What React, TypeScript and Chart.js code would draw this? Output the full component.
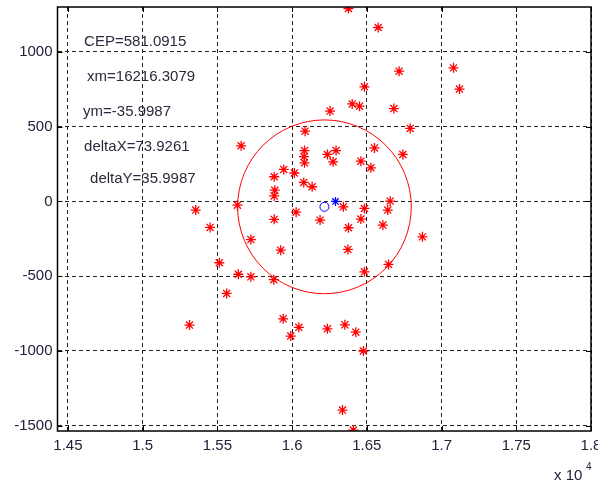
import React, { useEffect, useRef } from 'react';
import { Chart, registerables } from 'chart.js';

Chart.register(...registerables);

// ---- data ----
const shotX = [
  16377, 16576, 16716, 17080, 17120, 16484, 16402, 16451, 16254, 16681,
  16790, 16087, 15659, 16083, 16080, 16083, 16236, 16294, 16274, 16460,
  16551, 16741, 16527, 15944, 16015, 15880, 16078, 16134, 15884, 15880,
  15355, 15634, 16027, 15880, 15451, 15724, 15924, 15513, 15640, 15724,
  15877, 15562, 15313, 15940, 15991, 16045, 16236, 16353, 16426, 16477,
  16337, 16410, 16343, 16484, 16656, 16640, 16460, 16187, 16377, 16607,
  16872, 16373, 16645, 16484,
];
const shotY = [
  1290, 1163, 871, 893, 751, 766, 652, 637, 604, 621,
  488, 470, 372, 340, 300, 258, 314, 340, 265, 269,
  358, 314, 225, 214, 190, 165, 127, 98, 75, 37,
  -58, -25, -72, -120, -174, -255, -326, -410, -487, -504,
  -523, -615, -827, -785, -900, -842, -852, -825, -874, -1000,
  -1395, -1529, -36, -47, 2, -58, -118, -125, -176, -158,
  -237, -321, -421, -471,
];
const meanX = [16216.3079];
const meanY = [-35.9987];
const targetX = [16290.234];
const targetY = [0];
const CEP = 581.0915;

const xTickValues = [14500, 15000, 15500, 16000, 16500, 17000, 17500, 18000];
const xTickLabels = ['1.45', '1.5', '1.55', '1.6', '1.65', '1.7', '1.75', '1.8'];
const yTickValues = [-1500, -1000, -500, 0, 500, 1000];
const yTickLabels = ['-1500', '-1000', '-500', '0', '500', '1000'];
const statLabels = ['CEP=581.0915', 'xm=16216.3079', 'ym=-35.9987', 'deltaX=73.9261', 'deltaY=35.9987'];

const FONT = '"Liberation Sans", Arial, sans-serif';
const TEXT_COLOR = '#22223a';

function zeroPadding(s: any) {
  s.paddingTop = 0;
  s.paddingBottom = 0;
  s.paddingLeft = 0;
  s.paddingRight = 0;
  if (s._margins) {
    s._margins.top = 0;
    s._margins.bottom = 0;
    s._margins.left = 0;
    s._margins.right = 0;
  }
}

export default function App() {
  const ref = useRef<HTMLCanvasElement | null>(null);

  useEffect(() => {
    if (!ref.current) return;

    const cepPlugin = {
      id: 'cepCircle',
      beforeDatasetsDraw(chart: any) {
        const { ctx, chartArea, scales } = chart;
        const xs = scales.x, ys = scales.y;
        const cx = xs.getPixelForValue(meanX[0]);
        const cy = ys.getPixelForValue(meanY[0]);
        const rx = Math.abs(xs.getPixelForValue(meanX[0] + CEP) - cx);
        const ry = Math.abs(ys.getPixelForValue(meanY[0] + CEP) - cy);
        ctx.save();
        ctx.beginPath();
        ctx.rect(chartArea.left, chartArea.top, chartArea.right - chartArea.left, chartArea.bottom - chartArea.top);
        ctx.clip();
        ctx.beginPath();
        ctx.ellipse(cx, cy, rx, ry, 0, 0, Math.PI * 2);
        ctx.strokeStyle = '#ff0000';
        ctx.lineWidth = 1;
        ctx.stroke();

        // statistics text (anchored in data coordinates)
        const anchors = [
          [14608, 1065],
          [14628, 832],
          [14601, 596],
          [14608, 363],
          [14648, 149],
        ];
        ctx.font = '15px ' + FONT;
        ctx.fillStyle = '#2a2a3c';
        ctx.textAlign = 'left';
        ctx.textBaseline = 'middle';
        statLabels.forEach((t, i) => {
          ctx.fillText(t, xs.getPixelForValue(anchors[i][0]), ys.getPixelForValue(anchors[i][1]));
        });
        ctx.restore();
      },
      afterDraw(chart: any) {
        const { ctx, chartArea, scales } = chart;
        const { left, right, top, bottom } = chartArea;
        ctx.save();
        ctx.strokeStyle = '#000';
        ctx.lineWidth = 1.5;
        ctx.setLineDash([]);
        ctx.strokeRect(left, top, right - left, bottom - top);
        ctx.lineWidth = 1;
        ctx.beginPath();
        xTickValues.forEach((v) => {
          const px = Math.round(scales.x.getPixelForValue(v)) + 0.5;
          ctx.moveTo(px, bottom);
          ctx.lineTo(px, bottom - 5);
          ctx.moveTo(px, top);
          ctx.lineTo(px, top + 5);
        });
        yTickValues.forEach((v) => {
          const py = Math.round(scales.y.getPixelForValue(v)) + 0.5;
          ctx.moveTo(left, py);
          ctx.lineTo(left + 5, py);
          ctx.moveTo(right, py);
          ctx.lineTo(right - 5, py);
        });
        ctx.stroke();

        // exponent label
        ctx.fillStyle = TEXT_COLOR;
        ctx.textAlign = 'left';
        ctx.textBaseline = 'alphabetic';
        ctx.font = '15px ' + FONT;
        ctx.fillText('x 10', 554, 480);
        ctx.font = '10px ' + FONT;
        ctx.fillText('4', 586, 470);
        ctx.restore();
      },
    };

    const chart = new Chart(ref.current, {
      type: 'scatter',
      data: {
        datasets: [
          {
            label: 'shots',
            data: shotX.map((x, i) => ({ x, y: shotY[i] })),
            pointStyle: 'star',
            radius: 5,
            borderColor: '#ff0000',
            backgroundColor: '#ff0000',
            borderWidth: 1.3,
          },
          {
            label: 'mean',
            data: meanX.map((x, i) => ({ x, y: meanY[i] })),
            pointStyle: 'circle',
            radius: 4.5,
            borderColor: '#0000ff',
            backgroundColor: 'rgba(0,0,0,0)',
            borderWidth: 1,
          },
          {
            label: 'target',
            data: targetX.map((x, i) => ({ x, y: targetY[i] })),
            pointStyle: 'star',
            radius: 4.5,
            borderColor: '#0000ff',
            backgroundColor: '#0000ff',
            borderWidth: 1.3,
          },
        ],
      },
      options: {
        responsive: false,
        animation: false,
        events: [],
        layout: { padding: { left: 0, top: 7, right: 7, bottom: 0 }, autoPadding: false },
        plugins: { legend: { display: false }, tooltip: { enabled: false } },
        scales: {
          x: {
            type: 'linear',
            min: 14430,
            max: 18000,
            afterBuildTicks: (s: any) => {
              s.ticks = xTickValues.map((v) => ({ value: v }));
            },
            afterFit: (s: any) => {
              s.height = 53;
              zeroPadding(s);
            },
            ticks: {
              autoSkip: false,
              maxRotation: 0,
              padding: 6,
              color: TEXT_COLOR,
              font: { family: FONT, size: 15 },
              callback: (_v: any, i: number) => xTickLabels[i],
            },
            grid: { color: '#222', lineWidth: 1, drawTicks: false },
            border: { display: false, dash: [4, 3] },
          },
          y: {
            type: 'linear',
            min: -1535,
            max: 1300,
            afterBuildTicks: (s: any) => {
              s.ticks = yTickValues.map((v) => ({ value: v }));
            },
            afterFit: (s: any) => {
              s.width = 57.5;
              zeroPadding(s);
            },
            ticks: {
              autoSkip: false,
              padding: 5,
              color: TEXT_COLOR,
              font: { family: FONT, size: 15 },
              callback: (_v: any, i: number) => yTickLabels[i],
            },
            grid: { color: '#222', lineWidth: 1, drawTicks: false },
            border: { display: false, dash: [4, 3] },
          },
        },
      },
      plugins: [cepPlugin],
    } as any);

    return () => chart.destroy();
  }, []);

  return (
    <div style={{ position: 'fixed', left: 0, top: 0, width: 598, height: 484, background: '#fff' }}>
      <canvas ref={ref} width={598} height={484} style={{ display: 'block' }} />
    </div>
  );
}
